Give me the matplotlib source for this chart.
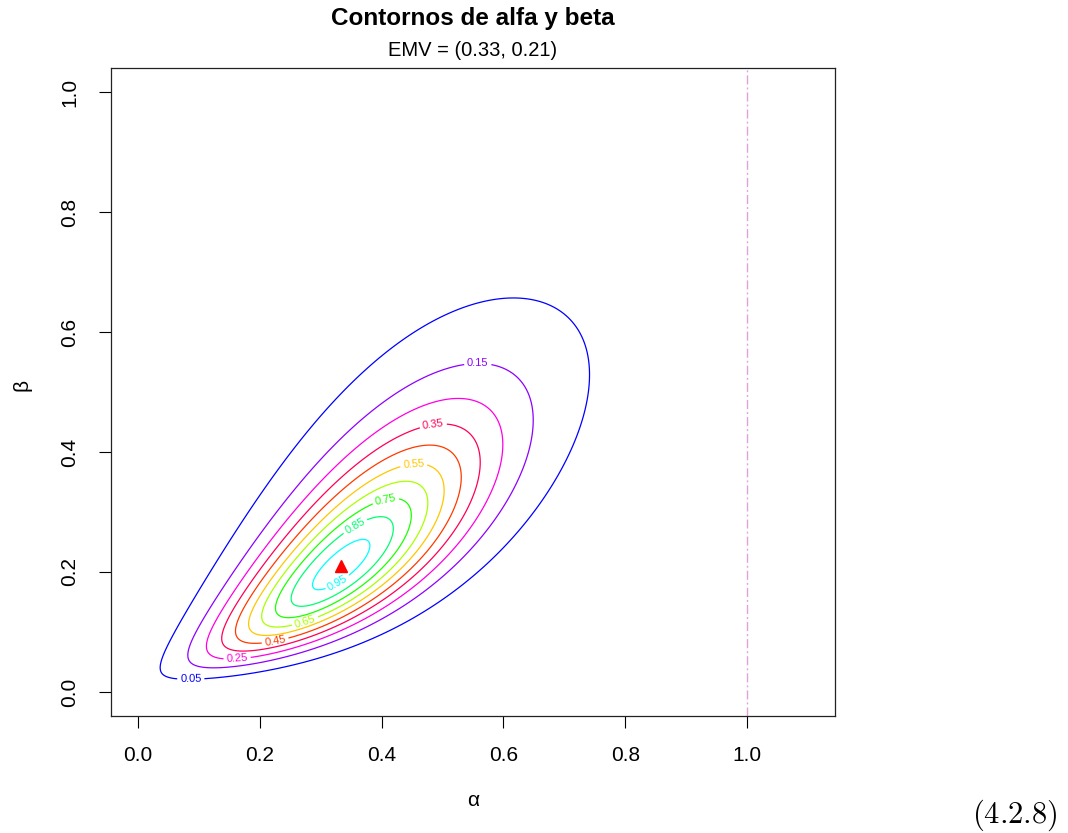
import numpy as np
import matplotlib
matplotlib.use('Agg')
import matplotlib.pyplot as plt
from matplotlib.colors import hsv_to_rgb

plt.rcParams['font.family'] = ['Liberation Sans', 'DejaVu Sans']
plt.rcParams['mathtext.fontset'] = 'cm'

# estimador de maxima verosimilitud (EMV)
alfa_emv = 0.333
beta_emv = 0.21

# niveles de la verosimilitud relativa
niveles = [0.05, 0.15, 0.25, 0.35, 0.45, 0.55, 0.65, 0.75, 0.85, 0.95]

# forma aproximada de la verosimilitud relativa en escala raiz,
# ajustada a ojo a los contornos del grafico original
sd_largo = 0.1805
sd_corto = 0.0633
sesgo_largo = 0.119
giro = 0.065
curvatura = 0.26
curvatura3 = -0.32
sesgo_corto = 0.61

ticks = [0.0, 0.2, 0.4, 0.6, 0.8, 1.0]
linea_v = 1.0


def verosimilitud_rel(a, b):
    p = np.sqrt(a) - np.sqrt(alfa_emv)
    q = np.sqrt(b) - np.sqrt(beta_emv)
    s = (p + q) / np.sqrt(2)
    d = (q - p) / np.sqrt(2)
    u = s + sesgo_largo * s**2
    d1 = d - (giro * s + curvatura * s**2 + curvatura3 * s**3)
    t = d1 - sesgo_corto * d1**2
    return np.exp(-0.5 * ((u / sd_largo)**2 + (t / sd_corto)**2))


alfa = np.linspace(0.0005, 1.1, 500)
beta = np.linspace(0.0005, 1.0, 500)
A, B = np.meshgrid(alfa, beta)
R = verosimilitud_rel(A, B)

# colores tipo arcoiris: azul -> magenta -> rojo -> amarillo -> verde -> cian
colores = [hsv_to_rgb(((2/3 + k*5/54) % 1, 1, 1)) for k in range(len(niveles))]

# donde van las etiquetas de cada contorno
pos_etiquetas = [(0.087, 0.018), (0.558, 0.536), (0.163, 0.055), (0.487, 0.430),
                 (0.226, 0.082), (0.454, 0.363), (0.276, 0.113), (0.410, 0.305),
                 (0.358, 0.274), (0.331, 0.177)]

fig = plt.figure(figsize=(10.68, 8.33), dpi=100)
ax = fig.add_axes([111/1068, 1 - 716/833, (835 - 111)/1068, (716 - 68)/833])

for nivel, col, pos in zip(niveles, colores, pos_etiquetas):
    cs = ax.contour(A, B, R, levels=[nivel], colors=[col], linewidths=0.9)
    ax.clabel(cs, fmt='%.2f', fontsize=8, inline=True, inline_spacing=4,
              manual=[pos])

ax.axvline(linea_v, color='#DDA3DA', lw=1.0, dashes=(6.5, 2.2, 1.4, 2.2))
ax.plot([alfa_emv], [beta_emv], marker='^', color='red', markersize=8.5,
        linestyle='none')

ax.set_xlim(-0.044, 1.144)
ax.set_ylim(-0.04, 1.04)
ax.set_xticks(ticks)
ax.set_yticks(ticks)
ax.set_xticklabels(['%.1f' % v for v in ticks])
ax.set_yticklabels(['%.1f' % v for v in ticks], rotation=90, va='center')
ax.tick_params(axis='both', direction='out', length=8.6, width=0.8,
               labelsize=15, colors='black')
ax.tick_params(axis='x', pad=13)
ax.tick_params(axis='y', pad=14)
for sp in ax.spines.values():
    sp.set_linewidth(0.9)
    sp.set_color('#222222')

fig.text(473/1068, 1 - 18/833, 'Contornos de alfa y beta', ha='center',
         va='center', fontsize=17.5, fontweight='bold')
fig.text(473/1068, 1 - 50/833, 'EMV = (%.2f, %.2f)' % (alfa_emv, beta_emv),
         ha='center', va='center', fontsize=14.5)
fig.text(473/1068, 1 - 800/833, '\u03b1', ha='center', va='center', fontsize=15)
fig.text(22/1068, 1 - 385/833, '\u03b2', ha='center', va='center', fontsize=15,
         rotation=90)
fig.text(1015/1068, 1 - 815/833, r'$\mathrm{(4.2.8)}$', ha='center',
         va='center', fontsize=22)

fig.savefig('out.png', dpi=100)
